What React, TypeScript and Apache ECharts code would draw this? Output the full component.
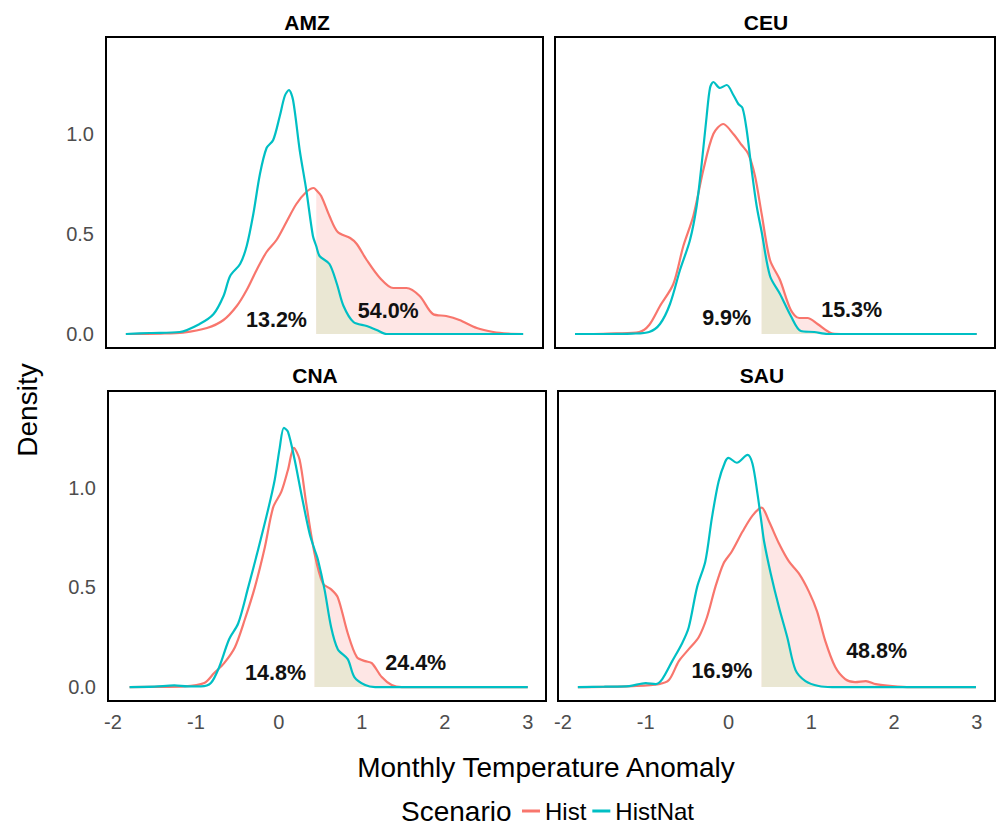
import React, { useEffect, useRef } from "react";
import * as echarts from "echarts";

const regions = ["AMZ", "CEU", "CNA", "SAU"];
const thresholds = [0.48, 0.42, 0.43, 0.4];
const histPct = ["54.0%", "15.3%", "24.4%", "48.8%"];
const natPct = ["13.2%", "9.9%", "14.8%", "16.9%"];
const histPctPos = [[1.35, 0.115], [1.5, 0.12], [1.65, 0.12], [1.79, 0.18]];
const natPctPos = [[0.0, 0.07], [0.0, 0.08], [-0.04, 0.07], [-0.08, 0.08]];
const yTicks = [0, 0.5, 1.0];
const xTicks = [-2, -1, 0, 1, 2, 3];
const titleCenters = [[307, 22], [766, 22], [315, 375], [762, 375]];

const amzHist = [[-1.82,0],[-1.4,0.002],[-1.13,0.007],[-0.84,0.03],[-0.64,0.07],[-0.48,0.14],[-0.36,0.22],[-0.24,0.32],[-0.12,0.41],[0.0,0.47],[0.12,0.56],[0.24,0.65],[0.36,0.71],[0.45,0.73],[0.48,0.72],[0.54,0.69],[0.64,0.59],[0.74,0.51],[0.89,0.48],[0.97,0.45],[1.09,0.37],[1.25,0.28],[1.41,0.23],[1.57,0.23],[1.73,0.19],[1.89,0.1],[2.05,0.09],[2.21,0.07],[2.42,0.03],[2.62,0.01],[2.8,0.002],[2.98,0]];
const amzHistNat = [[-1.82,0],[-1.53,0.005],[-1.17,0.01],[-0.93,0.05],[-0.76,0.1],[-0.64,0.19],[-0.56,0.29],[-0.44,0.35],[-0.36,0.44],[-0.28,0.6],[-0.2,0.8],[-0.12,0.93],[-0.04,0.97],[0.04,1.09],[0.1,1.19],[0.15,1.22],[0.2,1.17],[0.28,0.92],[0.36,0.72],[0.44,0.49],[0.48,0.44],[0.52,0.39],[0.64,0.35],[0.73,0.25],[0.81,0.14],[0.93,0.06],[1.09,0.04],[1.21,0.02],[1.33,0],[1.7,0],[2.1,0],[2.5,0],[2.98,0]];
const ceuHist = [[-1.82,0],[-1.6,0],[-1.33,0.003],[-1.05,0.01],[-0.93,0.045],[-0.8,0.14],[-0.64,0.25],[-0.52,0.44],[-0.4,0.59],[-0.28,0.82],[-0.16,1.0],[-0.04,1.05],[0.08,1.0],[0.18,0.945],[0.26,0.9],[0.34,0.79],[0.42,0.6],[0.52,0.37],[0.64,0.27],[0.77,0.12],[0.87,0.08],[0.97,0.08],[1.09,0.05],[1.25,0.005],[1.37,0],[2.0,0],[2.5,0],[3.0,0]];
const ceuHistNat = [[-1.82,0],[-1.5,0],[-1.13,0.002],[-0.93,0.01],[-0.8,0.05],[-0.68,0.15],[-0.56,0.32],[-0.44,0.47],[-0.36,0.64],[-0.3,0.85],[-0.24,1.09],[-0.2,1.23],[-0.16,1.26],[-0.08,1.23],[0.0,1.245],[0.08,1.195],[0.14,1.15],[0.19,1.13],[0.24,1.02],[0.3,0.82],[0.36,0.64],[0.42,0.51],[0.52,0.29],[0.64,0.2],[0.77,0.09],[0.89,0.015],[1.05,0.01],[1.21,0],[1.6,0],[2.0,0],[2.5,0],[3.0,0]];
const cnaHist = [[-1.8,0],[-1.4,0.001],[-1.14,0.003],[-0.9,0.02],[-0.78,0.07],[-0.66,0.12],[-0.53,0.2],[-0.41,0.34],[-0.29,0.5],[-0.17,0.7],[-0.07,0.9],[0.03,0.98],[0.11,1.09],[0.18,1.2],[0.25,1.14],[0.33,0.92],[0.43,0.67],[0.53,0.52],[0.63,0.49],[0.71,0.45],[0.83,0.27],[0.94,0.15],[1.04,0.13],[1.12,0.12],[1.24,0.05],[1.36,0.01],[1.48,0],[2.0,0],[2.5,0],[3.0,0]];
const cnaHistNat = [[-1.8,0],[-1.5,0.002],[-1.26,0.008],[-1.1,0.003],[-0.94,0.003],[-0.82,0.02],[-0.72,0.1],[-0.6,0.24],[-0.49,0.32],[-0.37,0.5],[-0.25,0.69],[-0.13,0.89],[-0.05,1.04],[0.01,1.2],[0.06,1.3],[0.11,1.28],[0.19,1.14],[0.27,0.97],[0.37,0.77],[0.43,0.69],[0.47,0.64],[0.55,0.49],[0.63,0.3],[0.71,0.19],[0.83,0.14],[0.91,0.05],[1.04,0.01],[1.16,0],[1.6,0],[2.0,0],[2.5,0],[3.0,0]];
const sauHist = [[-1.82,0],[-1.5,0.001],[-1.16,0.005],[-0.84,0.015],[-0.72,0.035],[-0.6,0.13],[-0.48,0.19],[-0.36,0.25],[-0.26,0.35],[-0.16,0.5],[-0.06,0.62],[0.04,0.68],[0.17,0.78],[0.29,0.86],[0.4,0.9],[0.49,0.83],[0.61,0.72],[0.73,0.63],[0.85,0.57],[0.97,0.48],[1.07,0.38],[1.17,0.23],[1.29,0.1],[1.41,0.04],[1.53,0.025],[1.66,0.03],[1.78,0.015],[1.98,0.005],[2.2,0],[2.6,0],[2.99,0]];
const sauHistNat = [[-1.82,0],[-1.5,0.002],[-1.2,0.005],[-1.0,0.02],[-0.88,0.015],[-0.8,0.04],[-0.68,0.13],[-0.56,0.22],[-0.48,0.3],[-0.38,0.5],[-0.28,0.63],[-0.2,0.85],[-0.12,1.03],[-0.04,1.13],[0.0,1.15],[0.1,1.125],[0.23,1.165],[0.29,1.12],[0.35,0.97],[0.4,0.82],[0.43,0.73],[0.51,0.57],[0.61,0.4],[0.71,0.25],[0.81,0.085],[0.93,0.03],[1.09,0.005],[1.25,0],[1.6,0],[2.0,0],[2.5,0],[2.99,0]];

const histData = [amzHist, ceuHist, cnaHist, sauHist];
const natData = [amzHistNat, ceuHistNat, cnaHistNat, sauHistNat];

const HIST_COLOR = "#F8766D";
const NAT_COLOR = "#00BFC4";
const FONT = "Liberation Sans";

const gridBoxes = [
  { left: 106, top: 37, width: 437, height: 311 },
  { left: 555, top: 37, width: 440, height: 311 },
  { left: 108, top: 391, width: 438, height: 310 },
  { left: 558, top: 391, width: 437, height: 310 },
];

export default function App() {
  const ref = useRef<HTMLDivElement>(null);
  useEffect(() => {
    if (!ref.current) return;
    const chart = echarts.init(ref.current, null, { renderer: "svg" });
    const smooth = 0.3;
    const series: any[] = [];
    regions.forEach((_, i) => {
      const th = thresholds[i];
      series.push({
        type: "line", name: "HistArea" + i, xAxisIndex: i, yAxisIndex: i,
        data: histData[i].filter((p) => p[0] >= th), smooth, showSymbol: false,
        lineStyle: { width: 0, opacity: 0 }, areaStyle: { color: "rgba(248,118,109,0.18)", opacity: 1 },
        silent: true, z: 1,
      });
      series.push({
        type: "line", name: "HistNatArea" + i, xAxisIndex: i, yAxisIndex: i,
        data: natData[i].filter((p) => p[0] >= th), smooth, showSymbol: false,
        lineStyle: { width: 0, opacity: 0 }, areaStyle: { color: "#EAE7D3", opacity: 1 },
        silent: true, z: 2,
      });
      series.push({
        type: "line", name: "Hist", xAxisIndex: i, yAxisIndex: i, data: histData[i], smooth,
        showSymbol: false, color: HIST_COLOR, lineStyle: { width: 2.2, color: HIST_COLOR }, z: 3,
      });
      series.push({
        type: "line", name: "HistNat", xAxisIndex: i, yAxisIndex: i, data: natData[i], smooth,
        showSymbol: false, color: NAT_COLOR, lineStyle: { width: 2.2, color: NAT_COLOR }, z: 4,
      });
      series.push({
        type: "scatter", name: "labels" + i, xAxisIndex: i, yAxisIndex: i, symbolSize: 0, silent: true, z: 5,
        itemStyle: { opacity: 1 },
        data: [
          [natPctPos[i][0], natPctPos[i][1], natPct[i]],
          [histPctPos[i][0], histPctPos[i][1], histPct[i]],
        ],
        label: {
          show: true, position: "inside", formatter: (p: any) => p.data[2], opacity: 1,
          fontFamily: FONT, fontSize: 21.5, fontWeight: "bold", color: "#111111",
        },
      });
    });

    const option: any = {
      animation: false,
      backgroundColor: "#ffffff",
      textStyle: { fontFamily: FONT },
      grid: gridBoxes.map((g) => ({ ...g, show: true, borderColor: "#000", borderWidth: 2, backgroundColor: "transparent" })),
      xAxis: gridBoxes.map((_, i) => ({
        type: "value", gridIndex: i, min: -2.06, max: 3.22,
        axisLine: { show: false }, axisTick: { show: false }, splitLine: { show: false },
        axisLabel: {
          show: i >= 2, customValues: xTicks, fontFamily: FONT, fontSize: 20, color: "#4d4d4d", margin: 11,
          formatter: (v: number) => String(v),
        },
      })),
      yAxis: gridBoxes.map((_, i) => ({
        type: "value", gridIndex: i, min: -0.07, max: 1.485,
        axisLine: { show: false }, axisTick: { show: false }, splitLine: { show: false },
        axisLabel: {
          show: i % 2 === 0, customValues: yTicks, fontFamily: FONT, fontSize: 20, color: "#4d4d4d", margin: 12,
          formatter: (v: number) => v.toFixed(1),
        },
      })),
      legend: {
        data: ["Hist", "HistNat"], left: 522, top: 799, icon: "rect", itemWidth: 18, itemHeight: 3,
        itemGap: 6, padding: 0, selectedMode: false,
        textStyle: { fontFamily: FONT, fontSize: 24, color: "#000" },
      },
      graphic: [
        ...regions.map((r, i) => ({
          type: "text", x: titleCenters[i][0], y: titleCenters[i][1],
          style: { text: r, fontFamily: FONT, fontSize: 21, fontWeight: "bold", fill: "#000", textAlign: "center", textVerticalAlign: "middle" },
        })),
        {
          type: "text", x: 27, y: 410, rotation: Math.PI / 2,
          style: { text: "Density", fontFamily: FONT, fontSize: 28, fill: "#000", textAlign: "center", textVerticalAlign: "middle" },
        },
        {
          type: "text", x: 546, y: 767,
          style: { text: "Monthly Temperature Anomaly", fontFamily: FONT, fontSize: 28, fill: "#000", textAlign: "center", textVerticalAlign: "middle" },
        },
        {
          type: "text", x: 401, y: 811,
          style: { text: "Scenario", fontFamily: FONT, fontSize: 28, fill: "#000", textAlign: "left", textVerticalAlign: "middle" },
        },
      ],
      series,
    };
    chart.setOption(option);
    return () => chart.dispose();
  }, []);
  return <div ref={ref} style={{ position: "fixed", left: 0, top: 0, width: 997, height: 825 }} />;
}
